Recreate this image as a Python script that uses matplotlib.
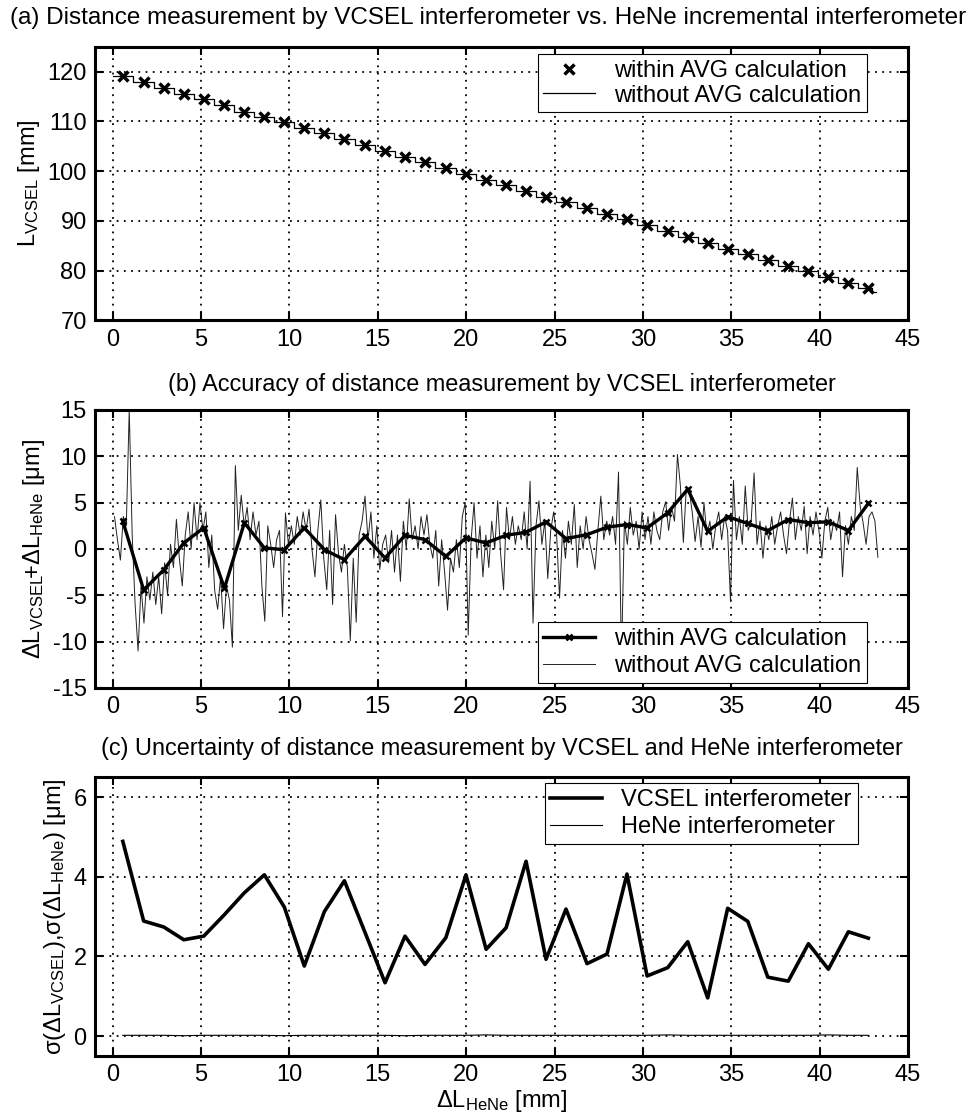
import numpy as np
import matplotlib
matplotlib.use("Agg")
import matplotlib.pyplot as plt

plt.rcParams['font.family'] = ['Liberation Sans', 'DejaVu Sans']
plt.rcParams['mathtext.fontset'] = 'custom'
plt.rcParams['mathtext.rm'] = 'Liberation Sans'
plt.rcParams['mathtext.it'] = 'Liberation Sans:italic'
plt.rcParams['mathtext.bf'] = 'Liberation Sans:bold'
plt.rcParams['mathtext.default'] = 'regular'
plt.rcParams['axes.unicode_minus'] = False

# positions of the averaged points (mm)
x_avg = [0.57, 1.75, 2.89, 4.02, 5.15, 6.32, 7.45, 8.58, 9.71, 10.84,
         11.98, 13.11, 14.28, 15.41, 16.54, 17.67, 18.85, 19.99, 21.13, 22.26,
         23.39, 24.52, 25.65, 26.84, 27.97, 29.10, 30.24, 31.41, 32.54, 33.67,
         34.80, 35.94, 37.07, 38.23, 39.37, 40.50, 41.63, 42.76]

# (a) L_VCSEL with AVG (mm)
L_avg = [119.0, 117.8, 116.6, 115.5, 114.4, 113.2, 111.95, 110.9, 109.8, 108.7,
         107.6, 106.4, 105.3, 104.1, 102.9, 101.8, 100.6, 99.4, 98.2, 97.2,
         95.9, 94.8, 93.7, 92.6, 91.4, 90.3, 89.1, 87.9, 86.8, 85.6,
         84.4, 83.4, 82.2, 81.0, 79.9, 78.8, 77.6, 76.5]
# staircase ends of the raw trace
x_start, L_start = 0.0, 119.0
x_end, L_end = 43.2, 75.8

# (b) error with AVG (um)
err_avg = [3.0, -4.42, -2.25, 0.65, 2.28, -4.24, 2.83, 0.11, -0.08, 2.28,
           -0.08, -1.16, 1.37, -0.98, 1.48, 1.01, -0.80, 1.20, 0.65, 1.48,
           1.80, 2.93, 1.12, 1.55, 2.35, 2.64, 2.28, 3.91, 6.45, 1.91,
           3.48, 2.75, 1.99, 3.18, 2.83, 2.93, 1.99, 4.92]

# (b) raw error without AVG (um), ~6 samples per mm from 0.1 to 43.3 mm
err_raw = [
    3.5, 1.0, -1.2, 3.5, 2.5, 15.0,
    1.5, -6.0, -11.0, -4.0, -8.0, -3.0,
    -5.5, -2.5, -6.0, -3.0, -7.0, -1.5,
    -5.0, 0.5, -2.0, 3.2, -1.0, -4.0,
    1.5, 4.0, 0.0, 5.0, 1.0, 5.0,
    2.0, 4.0, -2.0, 1.5, -4.5, -6.5,
    -3.0, -8.6, -4.0, -5.5, -10.6, 9.0,
    2.0, 5.8, 2.5, 4.5, 1.0, 4.0,
    1.5, 3.0, -4.0, -7.8, 2.5, 0.5,
    -2.0, 1.0, 2.0, -7.3, 3.9, 0.5,
    2.5, 0.5, 3.5, 1.5, 4.0, 2.0,
    4.3, 0.0, -3.0, 2.0, 5.3, -1.0,
    -4.4, 2.0, -6.0, 3.7, -0.5, -2.5,
    0.5, -2.0, -9.9, -1.0, -7.9, 1.5,
    3.0, 5.7, 1.0, 4.0, -1.0, 2.5,
    -2.2, 0.5, 1.5, -1.5, 2.0, -2.5,
    1.5, -3.5, 3.0, 0.0, 5.4, 1.0,
    2.5, 0.0, 3.5, 1.5, 3.7, 0.5,
    -1.0, 2.0, -4.0, 1.0, -2.5, -6.6,
    -1.0, -2.5, 1.0, -2.0, 3.5, 5.0,
    -9.3, 1.0, 5.0, -1.0, 2.5, -3.0,
    1.5, -2.0, 3.0, 0.0, 5.2, -0.5,
    -4.4, 4.5, 1.0, 3.5, 0.5, 2.5,
    1.0, 4.0, 0.0, 7.3, -8.0, 2.5,
    5.2, 0.5, 3.0, -3.2, 2.0, 4.0,
    1.5, -5.3, 2.0, -1.0, 3.0, 0.5,
    4.8, -2.0, 2.5, 0.0, 3.5, 1.0,
    -0.5, -2.2, 2.0, 5.7, 1.0, 3.0,
    1.5, 3.5, 0.5, 8.3, -12.0, 3.0,
    0.5, 4.5, 1.5, 3.0, 0.0, 4.0,
    1.0, 3.5, 0.5, 4.0, 2.0, 1.0,
    4.0, 5.1, 2.0, 4.5, 3.0, 10.2,
    6.8, 0.7, 6.6, 6.3, 4.0, 0.8,
    3.5, 0.2, 5.0, 1.5, 3.0, 0.0,
    2.5, 4.0, 1.0, 3.5, 2.0, -5.7,
    7.4, 1.0, 3.5, 0.5, 6.8, 2.0,
    3.0, 8.2, 0.5, 3.0, -1.0, 2.5,
    1.0, 3.5, 0.5, 2.5, 4.0, 1.5,
    -0.5, 3.0, 5.5, 1.0, 3.5, 2.0,
    4.6, -0.5, 3.5, 1.5, 4.0, 2.0,
    -1.0, 3.0, 4.5, 1.0, 3.0, 2.0,
    4.0, -3.0, 2.5, 0.5, 3.5, 2.0,
    8.8, 4.6, 2.8, 0.5, 3.5, 4.0,
    3.0, -0.9]
x_raw = np.linspace(0.1, 43.3, len(err_raw))

# (c) uncertainties (um)
sig_vcsel = [4.89, 2.89, 2.74, 2.42, 2.51, 3.05, 3.60, 4.05, 3.24, 1.76,
             3.13, 3.90, 2.60, 1.34, 2.51, 1.80, 2.47, 4.05, 2.18, 2.72,
             4.39, 1.93, 3.19, 1.82, 2.06, 4.07, 1.51, 1.72, 2.37, 0.96,
             3.21, 2.88, 1.48, 1.38, 2.32, 1.68, 2.62, 2.46]
sig_hene = [0.02, 0.02, 0.02, 0.01, 0.02, 0.02, 0.02, 0.02, 0.01, 0.02,
            0.02, 0.02, 0.02, 0.02, 0.01, 0.02, 0.02, 0.02, 0.03, 0.02,
            0.02, 0.02, 0.02, 0.02, 0.02, 0.02, 0.02, 0.03, 0.02, 0.02,
            0.02, 0.02, 0.02, 0.02, 0.02, 0.03, 0.02, 0.02]

FS = 17

fig = plt.figure(figsize=(9.7, 11.15), dpi=100)
ax1 = fig.add_axes([0.098, 0.7126, 0.838, 0.2456])
ax2 = fig.add_axes([0.098, 0.3830, 0.838, 0.2493])
ax3 = fig.add_axes([0.098, 0.0529, 0.838, 0.2500])


def style(ax):
    ax.set_xlim(-1, 45)
    ax.set_xticks(range(0, 46, 5))
    ax.grid(True, color='black', linestyle=(0, (1, 3)), linewidth=1.3)
    ax.tick_params(direction='in', top=True, right=True, length=6, width=1.5,
                   labelsize=FS, pad=6)
    for s in ax.spines.values():
        s.set_linewidth(2.2)


def legend(ax, handles, labels, spacing=0.2, **kw):
    leg = ax.legend(handles, labels, fontsize=FS, fancybox=False, edgecolor='black',
                    framealpha=1, borderpad=0.25, labelspacing=spacing, handlelength=2.2,
                    borderaxespad=0, **kw)
    leg.get_frame().set_linewidth(0.8)


# (a)
ax1.step([x_start] + x_avg + [x_end], [L_start] + L_avg + [L_end], where='mid',
         color='black', linewidth=0.9, label='without AVG calculation')
ax1.plot(x_avg, L_avg, linestyle='none', marker='x', markersize=6.5,
         markeredgewidth=2.5, color='black', label='within AVG calculation')
style(ax1)
ax1.set_ylim(70, 125)
ax1.set_yticks(range(70, 121, 10))
ax1.set_ylabel(r'L$_\mathregular{VCSEL}$ [mm]', fontsize=FS)
ax1.set_title('(a) Distance measurement by VCSEL interferometer vs. HeNe incremental interferometer',
              fontsize=17.5, x=0.483, pad=16)
h, l = ax1.get_legend_handles_labels()
legend(ax1, h[::-1], l[::-1], spacing=0.1, loc='upper right', bbox_to_anchor=(0.950, 0.972))

# (b)
ax2.plot(x_raw, err_raw, color='#222222', linewidth=0.7, label='without AVG calculation')
ax2.plot(x_avg, err_avg, color='black', linewidth=2.4, marker='x', markersize=5,
         markeredgewidth=1.8, label='within AVG calculation')
style(ax2)
ax2.set_ylim(-15, 15)
ax2.set_yticks(range(-15, 16, 5))
ax2.set_ylabel(r'ΔL$_\mathregular{VCSEL}\!$+ΔL$_\mathregular{HeNe}$ [μm]', fontsize=FS)
ax2.set_title('(b) Accuracy of distance measurement by VCSEL interferometer',
              fontsize=16.9, pad=14)
h, l = ax2.get_legend_handles_labels()
legend(ax2, h[::-1], l[::-1], loc='lower right', bbox_to_anchor=(0.950, 0.018))

# (c)
ax3.plot(x_avg, sig_vcsel, color='black', linewidth=2.6, label='VCSEL interferometer')
ax3.plot(x_avg, sig_hene, color='black', linewidth=0.8, label='HeNe interferometer')
style(ax3)
ax3.set_ylim(-0.5, 6.5)
ax3.set_yticks([0, 2, 4, 6])
ax3.set_ylabel(r'σ(ΔL$_\mathregular{VCSEL}$),σ(ΔL$_\mathregular{HeNe}$) [μm]', fontsize=FS)
ax3.set_xlabel(r'ΔL$_\mathregular{HeNe}$ [mm]', fontsize=FS, labelpad=1)
ax3.set_title('(c) Uncertainty of distance measurement by VCSEL and HeNe interferometer',
              fontsize=16.9, pad=16)
h, l = ax3.get_legend_handles_labels()
legend(ax3, h, l, loc='upper right', bbox_to_anchor=(0.938, 0.978))

fig.savefig('out.png', dpi=100)
